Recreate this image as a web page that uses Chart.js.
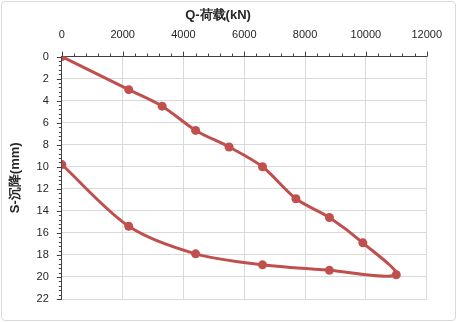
<!DOCTYPE html>
<html>
<head>
<meta charset="utf-8">
<script src="https://cdn.jsdelivr.net/npm/chart.js@4.4.1/dist/chart.umd.min.js"></script>
<style>
  html, body { margin: 0; padding: 0; background: #fff; }
  #wrap { position: relative; width: 457px; height: 322px; }
  #frame { position: absolute; left: 1px; top: 1px; width: 453px; height: 318px;
           border: 1px solid #d9d9d9; border-radius: 4px; pointer-events: none; }
</style>
</head>
<body>
<div id="wrap">
  <canvas id="myChart" width="457" height="322"></canvas>
  <div id="frame"></div>
</div>
<script>
// Q-S curve: loading then unloading
const cargas = [0, 2200, 3300, 4400, 5500, 6600, 7700, 8800, 9900, 11000, 8800, 6600, 4400, 2200, 0];
const recalques = [0, 3.0, 4.5, 6.7, 8.2, 10.0, 12.9, 14.6, 16.9, 19.8, 19.4, 18.9, 17.9, 15.4, 9.8];
const xTicks = [0, 2000, 4000, 6000, 8000, 10000, 12000];
const yTicks = [0, 2, 4, 6, 8, 10, 12, 14, 16, 18, 20, 22];

const pontos = cargas.map((q, i) => ({ x: q, y: recalques[i] }));

// minor tick marks like the excel axis
const tickMenor = {
  id: 'tickMenor',
  afterDraw(chart) {
    const c = chart.ctx;
    const sx = chart.scales.x, sy = chart.scales.y;
    const top = sy.getPixelForValue(0), left = sx.getPixelForValue(0);
    c.save();
    c.strokeStyle = '#404040';
    c.lineWidth = 1;
    c.beginPath();
    for (let v = 0; v <= 12000; v += 400) {
      const px = Math.round(sx.getPixelForValue(v)) + 0.5;
      const len = (v % 2000 === 0) ? 5 : 3;
      c.moveTo(px, top); c.lineTo(px, top - len);
    }
    for (let k = 0; k <= 55; k++) {
      const v = k * 0.4;
      const py = Math.round(sy.getPixelForValue(v)) + 0.5;
      const len = (k % 5 === 0) ? 5 : 3;
      c.moveTo(left, py); c.lineTo(left - len, py);
    }
    c.stroke();
    c.restore();
  }
};

const fonte = { family: 'Liberation Sans, Arial', size: 11 };

const ctx = document.getElementById('myChart');
new Chart(ctx, {
  type: 'scatter',
  data: {
    datasets: [{
      label: 'Q-S',
      data: pontos,
      showLine: true,
      tension: 0.3,
      borderColor: '#C0504D',
      backgroundColor: '#C0504D',
      borderWidth: 3,
      pointBorderWidth: 0,
      pointRadius: 4.5,
      pointHoverRadius: 4.5
    }]
  },
  options: {
    responsive: false,
    animation: false,
    layout: { padding: { left: 8, right: 29, top: 8, bottom: 23 } },
    plugins: {
      legend: { display: false },
      tooltip: { enabled: false },
      title: {
        display: true,
        text: 'Q-荷载(kN)',
        color: '#262626',
        font: { family: 'Liberation Sans, Arial', size: 13, weight: 'bold' },
        padding: { top: 0, bottom: 0 }
      }
    },
    scales: {
      x: {
        type: 'linear',
        position: 'top',
        min: 0, max: 12000,
        afterBuildTicks: s => { s.ticks = xTicks.map(v => ({ value: v })); },
        afterFit: s => { s.height = 33; },
        ticks: { color: '#262626', font: fonte, padding: 15, maxRotation: 0, callback: v => String(v) },
        grid: { color: '#d9d9d9', lineWidth: 1, drawTicks: false },
        border: { display: true, color: '#404040', width: 1 }
      },
      y: {
        type: 'linear',
        reverse: true,
        min: 0, max: 22,
        afterBuildTicks: s => { s.ticks = yTicks.map(v => ({ value: v })); },
        ticks: { color: '#262626', font: fonte, padding: 13, callback: v => String(v) },
        grid: { color: '#d9d9d9', lineWidth: 1, drawTicks: false },
        border: { display: true, color: '#404040', width: 1 },
        title: {
          display: true,
          text: 'S-沉降(mm)',
          color: '#262626',
          font: { family: 'Liberation Sans, Arial', size: 13, weight: 'bold' },
          padding: { top: 0, bottom: 0 }
        }
      }
    }
  },
  plugins: [tickMenor]
});
</script>
</body>
</html>
